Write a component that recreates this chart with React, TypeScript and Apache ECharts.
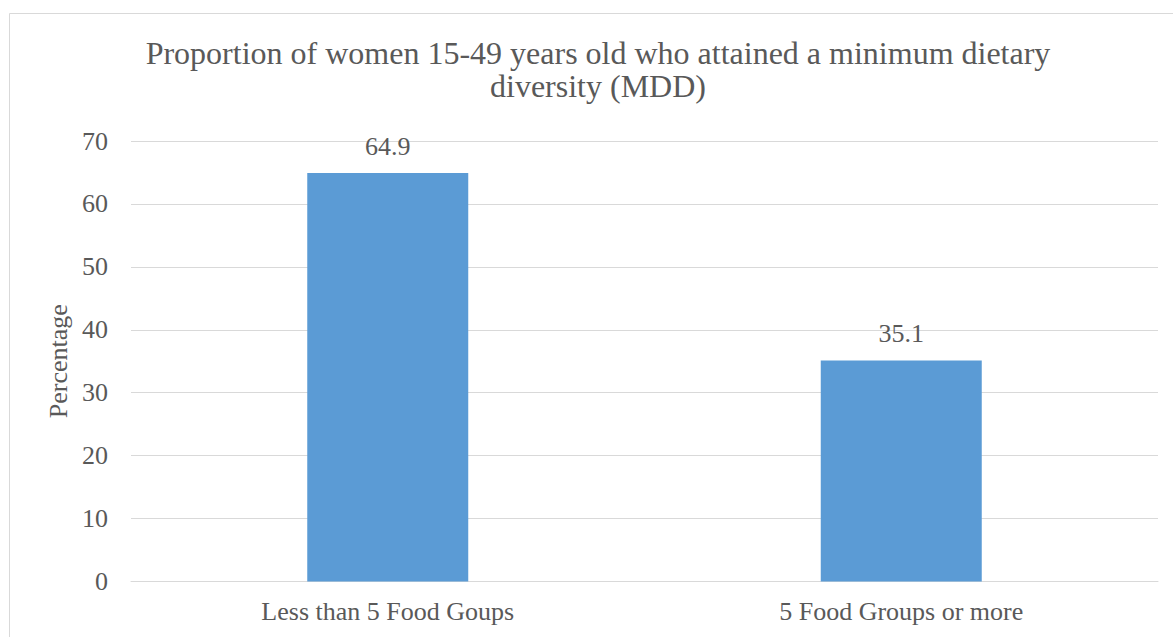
import React, { useEffect, useRef } from "react";
import * as echarts from "echarts";

// Minimum dietary diversity among women aged 15-49
const categories = ["Less than 5 Food Goups", "5 Food Groups or more"];
const percentages = [64.9, 35.1];
const titleLines = [
  "Proportion of women 15-49 years old who attained a minimum dietary",
  "diversity (MDD)",
];
const axisName = "Percentage";

const FONT = "'Times New Roman', 'Liberation Serif', serif";
const TEXT = "#595959";
const GRID_LINE = "#d9d9d9";
const BAR = "#5b9bd5";

export default function App() {
  const ref = useRef<HTMLDivElement>(null);

  useEffect(() => {
    if (!ref.current) return;
    const chart = echarts.init(ref.current, undefined, { renderer: "svg" });
    chart.setOption({
      animation: false,
      backgroundColor: "#ffffff",
      textStyle: { fontFamily: FONT },
      graphic: [
        {
          type: "rect",
          shape: { x: 9.5, y: 13.5, width: 1200, height: 700 },
          style: { fill: "none", stroke: GRID_LINE, lineWidth: 1 },
          silent: true,
        },
        {
          type: "text",
          x: 598,
          y: 37,
          style: {
            text: titleLines[0],
            fill: TEXT,
            font: "normal 32px " + FONT,
            align: "center",
            verticalAlign: "top",
          },
          silent: true,
        },
        {
          type: "text",
          x: 598,
          y: 70,
          style: {
            text: titleLines[1],
            fill: TEXT,
            font: "normal 32px " + FONT,
            align: "center",
            verticalAlign: "top",
          },
          silent: true,
        },
      ],
      grid: { left: 131, right: 15, top: 141, bottom: 55.5 },
      xAxis: {
        type: "category",
        data: categories,
        axisLine: { show: true, lineStyle: { color: GRID_LINE, width: 1 } },
        axisTick: { show: false },
        axisLabel: {
          color: TEXT,
          fontFamily: FONT,
          fontSize: 26,
          margin: 17,
        },
      },
      yAxis: {
        type: "value",
        min: 0,
        max: 70,
        interval: 10,
        name: axisName,
        nameLocation: "middle",
        nameGap: 59,
        nameRotate: 90,
        nameTextStyle: { color: TEXT, fontFamily: FONT, fontSize: 26 },
        axisLine: { show: false },
        axisTick: { show: false },
        axisLabel: {
          color: TEXT,
          fontFamily: FONT,
          fontSize: 26,
          margin: 23,
        },
        splitLine: { lineStyle: { color: GRID_LINE, width: 1 } },
      },
      series: [
        {
          type: "bar",
          data: percentages,
          barWidth: 161,
          itemStyle: { color: BAR },
          label: {
            show: true,
            position: "top",
            distance: 14,
            color: TEXT,
            fontFamily: FONT,
            fontSize: 26,
          },
        },
      ],
    });
    return () => chart.dispose();
  }, []);

  return (
    <div
      ref={ref}
      style={{ position: "absolute", left: 0, top: 0, width: 1173, height: 637 }}
    />
  );
}
